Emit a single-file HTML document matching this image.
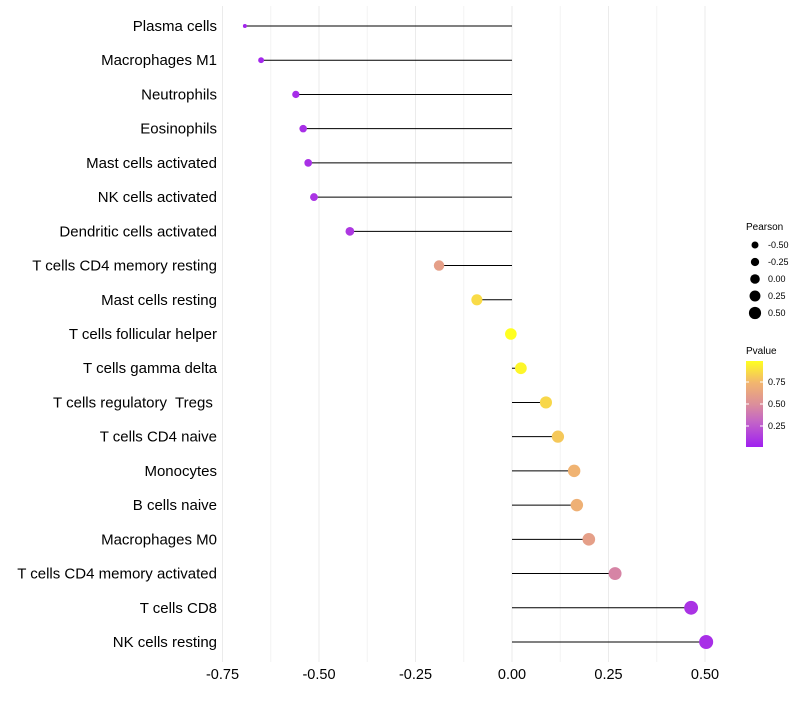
<!DOCTYPE html>
<html><head><meta charset="utf-8"><style>
body{margin:0;background:#fff;font-family:"Liberation Sans",sans-serif}
</style></head><body>
<svg id="c" width="800" height="700" xmlns="http://www.w3.org/2000/svg">
<defs><linearGradient id="pg" x1="0" y1="1" x2="0" y2="0">
<stop offset="0" stop-color="#a020f0"/><stop offset="0.3" stop-color="#c466c6"/><stop offset="0.5" stop-color="#dc8f9a"/><stop offset="0.75" stop-color="#f2b66e"/><stop offset="1" stop-color="#ffff20"/></linearGradient></defs>
<g id="grid"></g><g id="marks"></g><g id="labels"></g>
<g font-size="9" fill="#000">
<text x="746" y="230" font-size="10">Pearson</text>
<g id="sizeleg"></g>
<text x="746" y="354" font-size="10">Pvalue</text>
<rect x="746" y="361" width="17" height="86" fill="url(#pg)"/>
<g stroke="#fff" stroke-width="1"><line x1="746" y1="382" x2="749" y2="382"/><line x1="760" y1="382" x2="763" y2="382"/><line x1="746" y1="404" x2="749" y2="404"/><line x1="760" y1="404" x2="763" y2="404"/><line x1="746" y1="426" x2="749" y2="426"/><line x1="760" y1="426" x2="763" y2="426"/></g>
<text x="768" y="385">0.75</text><text x="768" y="407">0.50</text><text x="768" y="429">0.25</text>
</g>
</svg>
<script>
const categories=["Plasma cells","Macrophages M1","Neutrophils","Eosinophils","Mast cells activated","NK cells activated","Dendritic cells activated","T cells CD4 memory resting","Mast cells resting","T cells follicular helper","T cells gamma delta","T cells regulatory\u00a0 Tregs\u00a0","T cells CD4 naive","Monocytes","B cells naive","Macrophages M0","T cells CD4 memory activated","T cells CD8","NK cells resting"];
const pearson=[-0.692,-0.650,-0.560,-0.541,-0.528,-0.513,-0.420,-0.189,-0.091,-0.003,0.023,0.088,0.119,0.161,0.168,0.199,0.267,0.464,0.503];
const pvalue=[0.04,0.05,0.07,0.08,0.09,0.1,0.12,0.6,0.86,0.99,0.95,0.85,0.8,0.72,0.7,0.6,0.45,0.1,0.08];
const xTicks=[-0.75,-0.5,-0.25,0,0.25,0.5];
const xTickLabels=["-0.75","-0.50","-0.25","0.00","0.25","0.50"];
const sizeLegend=[-0.5,-0.25,0,0.25,0.5];
const sizeLegendLabels=["-0.50","-0.25","0.00","0.25","0.50"];
const NS="http://www.w3.org/2000/svg";
const X=v=>512+v*386;
const Y=i=>26+i*(642-26)/(categories.length-1);
const R=v=>2+5*Math.sqrt(Math.max(0,(v+0.69)/1.19));
const stops=[[0,[160,32,240]],[0.3,[196,102,198]],[0.5,[220,143,154]],[0.75,[242,182,110]],[1,[255,255,32]]];
function col(p){const t=Math.max(0,Math.min(1,(p-0.02)/0.96));for(let k=1;k<stops.length;k++){if(t<=stops[k][0]){const a=stops[k-1],b=stops[k],f=(t-a[0])/(b[0]-a[0]);return "rgb("+a[1].map((c,j)=>Math.round(c+(b[1][j]-c)*f)).join(",")+")";}}return "rgb(255,255,32)";}
function mk(tag,at,parent){const e=document.createElementNS(NS,tag);for(const k in at)e.setAttribute(k,at[k]);parent.appendChild(e);return e;}
const grid=document.getElementById('grid'),marks=document.getElementById('marks'),labels=document.getElementById('labels');
for(let i=0;i<xTicks.length;i++){
 const g=mk('line',{x1:X(xTicks[i]),x2:X(xTicks[i]),y1:6,y2:662,stroke:'#ebebeb','stroke-width':1},grid);
 
 
 if(i<xTicks.length-1){const m=(xTicks[i]+xTicks[i+1])/2;mk('line',{x1:X(m),x2:X(m),y1:6,y2:662,stroke:'#f3f3f3','stroke-width':1},grid);}
 const t=mk('text',{x:X(xTicks[i]),y:679,'text-anchor':'middle','font-size':14.5,fill:'#000'},labels);
 t.textContent=xTickLabels[i];
 
 
}
for(let i=0;i<categories.length;i++){
 const y=Y(i);
 const ln=mk('line',{x1:X(0),x2:X(pearson[i]),y1:y,y2:y,stroke:'#000','stroke-width':1},marks);
 
 
 const c=mk('circle',{cx:X(pearson[i]),cy:y,r:R(pearson[i]),fill:col(pvalue[i])},marks);
 
 
 const t=mk('text',{x:217,y:y+5,'text-anchor':'end','font-size':15,fill:'#000'},labels);
 t.textContent=categories[i];
 
 
}
const sl=document.getElementById('sizeleg');
for(let i=0;i<sizeLegend.length;i++){
 const y=245+i*17;
 const c=mk('circle',{cx:755,cy:y,r:3.5+(sizeLegend[i]+0.5)*2.6,fill:'#000'},sl);
 
 
 const t=mk('text',{x:768,y:y+3,'font-size':9},sl);
 t.textContent=sizeLegendLabels[i];
 
 
}
</script>
</body></html>
